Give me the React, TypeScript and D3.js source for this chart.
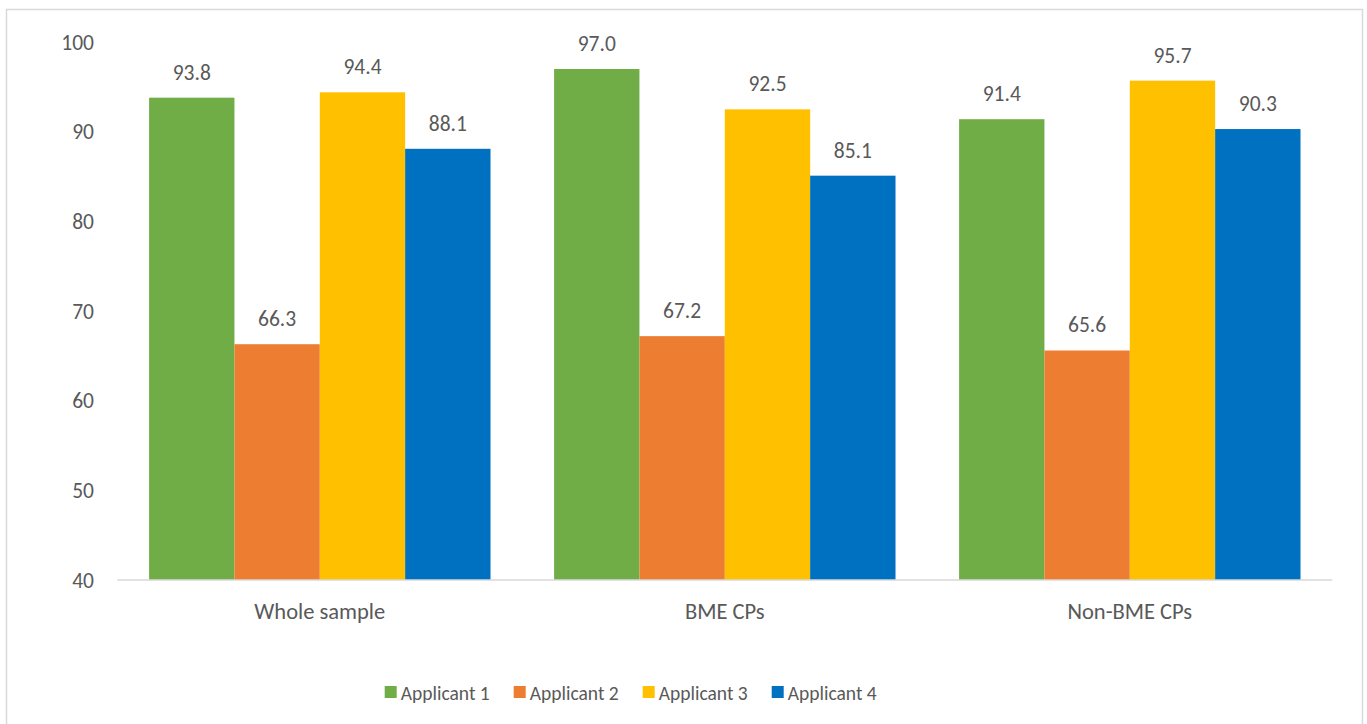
import React from "react";
import * as d3 from "d3";

const categories = ["Whole sample", "BME CPs", "Non-BME CPs"];
const seriesNames = ["Applicant 1", "Applicant 2", "Applicant 3", "Applicant 4"];
const applicant1 = [93.8, 97.0, 91.4];
const applicant2 = [66.3, 67.2, 65.6];
const applicant3 = [94.4, 92.5, 95.7];
const applicant4 = [88.1, 85.1, 90.3];
const seriesValues = [applicant1, applicant2, applicant3, applicant4];
const colors = ["#70AD47", "#ED7D31", "#FFC000", "#0070C0"];
const yTicks = [40, 50, 60, 70, 80, 90, 100];

const W = 1367;
const H = 724;
const FONT = "Carlito, Calibri, Lato, 'Liberation Sans', sans-serif";
const FS = 21.5;
const TEXT = "#595959";

export default function App() {
  const left = 117.3;
  const right = 1332.3;
  const top = 42.1;
  const bottom = 580;

  const x = d3.scaleBand<string>().domain(categories).range([left, right]).paddingInner(0.157).paddingOuter(0.0785);
  const xs = d3.scaleBand<string>().domain(seriesNames).range([0, x.bandwidth()]).padding(0);
  const y = d3.scaleLinear().domain([40, 100]).range([bottom, top]);

  const legendStart = 384.7;
  const legendStep = 129;

  return (
    <svg width={W} height={H} style={{ position: "absolute", left: 0, top: 0, background: "#fff" }}>
      <rect x={6.5} y={9.5} width={1356} height={740} fill="#fff" stroke="#d9d9d9" strokeWidth={1.5} />
      {yTicks.map((t) => (
        <text key={t} x={94} y={y(t) + 7.5} textAnchor="end" fontFamily={FONT} fontSize={FS} fill={TEXT}>
          {t}
        </text>
      ))}
      {seriesNames.map((s, si) =>
        categories.map((c, ci) => {
          const v = seriesValues[si][ci];
          const bx = (x(c) as number) + (xs(s) as number);
          const bw = xs.bandwidth();
          return (
            <g key={s + c}>
              <rect x={bx} y={y(v)} width={bw} height={bottom - y(v)} fill={colors[si]} />
              <text x={bx + bw / 2} y={y(v) - 18} textAnchor="middle" fontFamily={FONT} fontSize={FS} fill={TEXT}>
                {v.toFixed(1)}
              </text>
            </g>
          );
        })
      )}
      <line x1={left} x2={right} y1={bottom} y2={bottom} stroke="#d9d9d9" strokeWidth={1.5} />
      {categories.map((c) => (
        <text key={c} x={(x(c) as number) + x.bandwidth() / 2} y={619} textAnchor="middle" fontFamily={FONT} fontSize={22.5} fill={TEXT}>
          {c}
        </text>
      ))}
      {seriesNames.map((s, i) => (
        <g key={s}>
          <rect x={legendStart + i * legendStep} y={686} width={12} height={12} fill={colors[i]} />
          <text x={legendStart + i * legendStep + 16} y={700} fontFamily={FONT} fontSize={19.5} fill={TEXT}>
            {s}
          </text>
        </g>
      ))}
    </svg>
  );
}
